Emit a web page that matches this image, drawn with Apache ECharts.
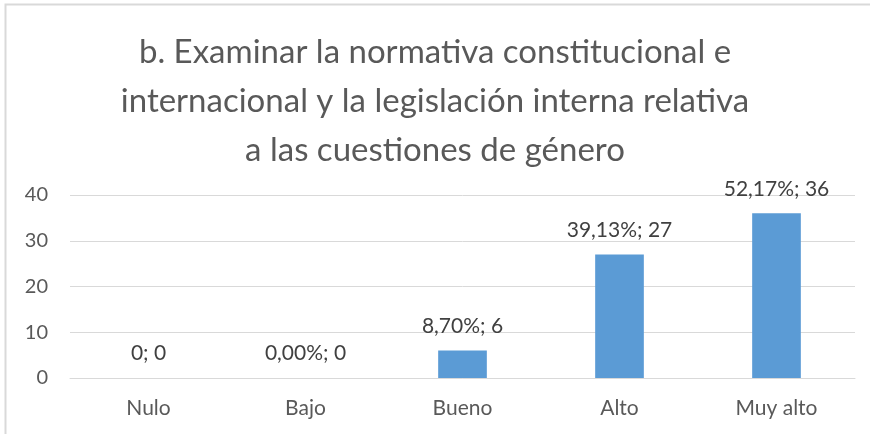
<!DOCTYPE html>
<html>
<head>
<meta charset="utf-8">
<script src="https://cdn.jsdelivr.net/npm/echarts@6/dist/echarts.min.js"></script>
<style>
  html, body { margin: 0; padding: 0; background: #fff; }
  #main { width: 870px; height: 434px; }
</style>
</head>
<body>
<div id="main"></div>
<script>
var categories = ['Nulo', 'Bajo', 'Bueno', 'Alto', 'Muy alto'];
var counts = [0, 0, 6, 27, 36];
var percents = ['0', '0,00%', '8,70%', '39,13%', '52,17%'];
var yTicks = [0, 10, 20, 30, 40];
var titleText = 'b. Examinar la normativa constitucional e\ninternacional y la legislación interna relativa\na las cuestiones de género';

var font = 'Lato';
var myChart = echarts.init(document.getElementById('main'));
myChart.setOption({
  animation: false,
  title: {
    text: titleText,
    left: 'center',
    top: 23,
    textStyle: {
      fontFamily: font, fontSize: 33, fontWeight: 'normal',
      color: '#595959', lineHeight: 49, align: 'center'
    }
  },
  graphic: [{
    type: 'polyline',
    shape: { points: [[5.5, 440], [5.5, 4.5], [880, 4.5]] },
    style: { fill: null, stroke: '#d9d9d9', lineWidth: 2 },
    silent: true
  }],
  grid: { left: 70, right: 15, top: 195, bottom: 56 },
  xAxis: {
    type: 'category',
    data: categories,
    axisLine: { lineStyle: { color: '#d9d9d9' } },
    axisTick: { show: false },
    axisLabel: { color: '#595959', fontFamily: font, fontSize: 21, margin: 20 }
  },
  yAxis: {
    type: 'value',
    min: yTicks[0],
    max: yTicks[yTicks.length - 1],
    interval: 10,
    axisLine: { show: false },
    axisTick: { show: false },
    splitLine: { lineStyle: { color: '#d9d9d9', width: 1 } },
    axisLabel: { color: '#595959', fontFamily: font, fontSize: 20, margin: 22 }
  },
  series: [{
    type: 'bar',
    data: counts,
    barWidth: '31%',
    itemStyle: { color: '#5b9bd5' },
    label: {
      show: true,
      position: 'top',
      distance: 14,
      color: '#404040',
      fontFamily: font,
      fontSize: 21,
      formatter: function (p) { return percents[p.dataIndex] + '; ' + p.value; }
    }
  }]
});
</script>
</body>
</html>
